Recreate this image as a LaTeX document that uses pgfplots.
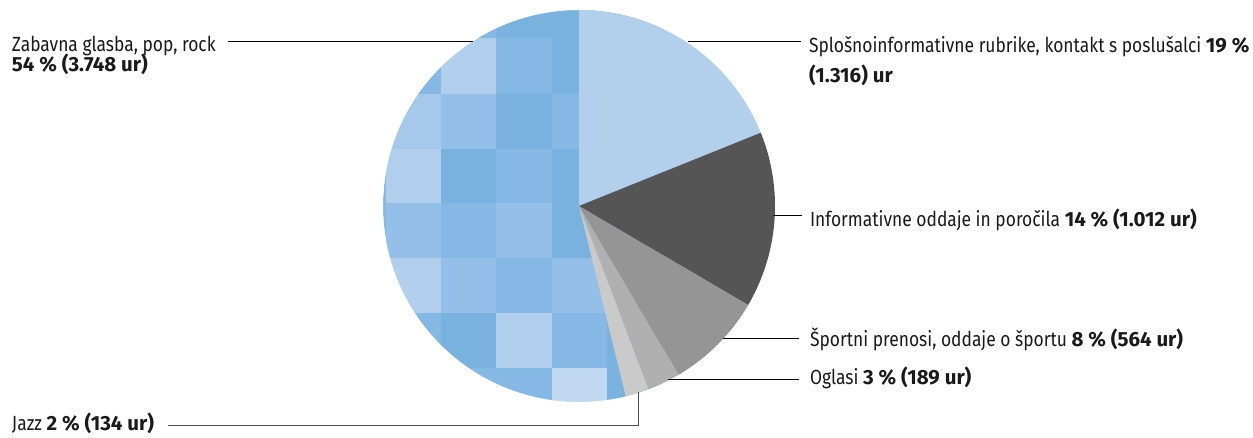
\documentclass[border=0pt]{standalone}
\usepackage{fontspec}
\setmainfont{Fira Sans}[FakeStretch=0.85]
\newfontfamily\bfam{Fira Sans}[FakeStretch=1.0]
\newcommand\B[1]{{\bfam\bfseries #1}}
\usepackage{pgfplots}
\usepackage{pgfplotstable}
\pgfplotsset{compat=1.18}
\definecolor{cSplo}{HTML}{B2CFEC}
\definecolor{cInfo}{HTML}{555555}
\definecolor{cSport}{HTML}{959595}
\definecolor{cOgl}{HTML}{B0B0B0}
\definecolor{cJazz}{HTML}{CACACA}
\definecolor{cZab}{HTML}{86B8E6}
\definecolor{txt}{HTML}{1A1A1A}

% hours per category (clockwise from 12 o'clock)
\pgfplotstableread{
cat h
Splosno 1316
Inform 1012
Sport 564
Oglasi 189
Jazz 134
Zabavna 3748
}\piedata

% mosaic texture of the "Zabavna" slice (cell centres, colour index)
\pgfplotstableread{
x y c
413.5 426.5 1
468.5 426.5 1
524 426.5 0
579.5 426.5 0
634.5 426.5 0
413.5 371 1
468.5 371 4
524 371 1
579.5 371 0
634.5 371 0
413.5 315.5 3
468.5 315.5 2
524 315.5 0
579.5 315.5 1
634.5 315.5 0
413.5 261 4
468.5 261 0
524 261 1
579.5 261 0
634.5 261 0
413.5 206.5 2
468.5 206.5 1
524 206.5 2
579.5 206.5 0
634.5 206.5 0
413.5 151.5 4
468.5 151.5 2
524 151.5 1
579.5 151.5 2
634.5 151.5 3
413.5 96.5 1
468.5 96.5 0
524 96.5 4
579.5 96.5 1
634.5 96.5 0
413.5 41.5 1
468.5 41.5 1
524 41.5 1
579.5 41.5 5
634.5 41.5 0
}\mosaic

\pgfplotstablegetelem{0}{h}\of\piedata\let\hA\pgfplotsretval
\pgfplotstablegetelem{1}{h}\of\piedata\let\hB\pgfplotsretval
\pgfplotstablegetelem{2}{h}\of\piedata\let\hC\pgfplotsretval
\pgfplotstablegetelem{3}{h}\of\piedata\let\hD\pgfplotsretval
\pgfplotstablegetelem{4}{h}\of\piedata\let\hE\pgfplotsretval
\pgfplotstablegetelem{5}{h}\of\piedata\let\hF\pgfplotsretval
\pgfmathsetmacro\tot{\hA+\hB+\hC+\hD+\hE+\hF}
\pgfmathsetmacro\aA{90}
\pgfmathsetmacro\aB{\aA-360*(\hA/\tot)}
\pgfmathsetmacro\aC{\aB-360*(\hB/\tot)}
\pgfmathsetmacro\aD{\aC-360*(\hC/\tot)}
\pgfmathsetmacro\aE{\aD-360*(\hD/\tot)}
\pgfmathsetmacro\aF{\aE-360*(\hE/\tot)}
\pgfmathsetmacro\aG{\aA-360}

\tikzset{lbl/.style={font=\fontsize{20.5}{24}\selectfont, text=txt, inner sep=0pt, outer sep=0pt, anchor=base west}}

\begin{document}%
\begin{tikzpicture}
\useasboundingbox (0,0) rectangle (1253pt,437pt);
\begin{axis}[at={(0,0)}, anchor=south west, scale only axis,
  width=1253pt, height=437pt, xmin=0, xmax=1253, ymin=0, ymax=437,
  hide axis, clip=false,
  colormap={mosaic}{rgb255=(121,177,223) rgb255=(134,184,230) rgb255=(148,191,232) rgb255=(166,201,235) rgb255=(177,207,237) rgb255=(192,216,240)},
  colormap access=direct]
% Zabavna slice base
\addplot[draw=none, fill=cZab, domain=\aG:\aF, samples=90] ({579+196*cos(x)}, {231+196*sin(x)}) -- (axis cs:579,231) -- cycle;
% mosaic texture
\addplot[matrix plot*, shader=flat corner, mesh/cols=5, point meta=explicit] table[x=x, y=y, meta=c] {\mosaic};
% mask outside the circle
\fill[white, even odd rule] (axis cs:370,-40) rectangle (axis cs:690,480) (axis cs:579,231) circle[radius=196pt];
% other slices
\addplot[draw=none, fill=cSplo, domain=\aB:\aA, samples=40] ({579+196*cos(x)}, {231+196*sin(x)}) -- (axis cs:579,231) -- cycle;
\addplot[draw=none, fill=cInfo, domain=\aC:\aB, samples=40] ({579+196*cos(x)}, {231+196*sin(x)}) -- (axis cs:579,231) -- cycle;
\addplot[draw=none, fill=cSport, domain=\aD:\aC, samples=30] ({579+196*cos(x)}, {231+196*sin(x)}) -- (axis cs:579,231) -- cycle;
\addplot[draw=none, fill=cOgl, domain=\aE:\aD, samples=15] ({579+196*cos(x)}, {231+196*sin(x)}) -- (axis cs:579,231) -- cycle;
\addplot[draw=none, fill=cJazz, domain=\aF:\aE, samples=15] ({579+196*cos(x)}, {231+196*sin(x)}) -- (axis cs:579,231) -- cycle;
% leader lines
\draw[black, line width=1pt] (axis cs:228,395) -- (axis cs:473,395);
\draw[black, line width=1pt] (axis cs:688,395) -- (axis cs:801,395);
\draw[black, line width=1pt] (axis cs:773,222) -- (axis cs:802,222);
\draw[black, line width=1pt] (axis cs:723,99) -- (axis cs:799,99);
\draw[black, line width=1pt] (axis cs:668,58) -- (axis cs:799,58);
\draw[black!70, line width=1pt] (axis cs:168,11.5) -- (axis cs:638,11.5) -- (axis cs:638,45);
% labels
\node[lbl] at (axis cs:12,385.5) {Zabavna glasba, pop, rock};
\node[lbl] at (axis cs:12,365.5) {\B{54 \% (3.748 ur)}};
\node[lbl] at (axis cs:809,384.7) {Splošnoinformativne rubrike, kontakt s poslušalci \B{19 \%}};
\node[lbl] at (axis cs:809,354.7) {\B{(1.316) ur}};
\node[lbl] at (axis cs:810,210.3) {Informativne oddaje in poročila \B{14 \% (1.012 ur)}};
\node[lbl] at (axis cs:810,90.3) {Športni prenosi, oddaje o športu \B{8 \% (564 ur)}};
\node[lbl] at (axis cs:810,53) {Oglasi \B{3 \% (189 ur)}};
\node[lbl] at (axis cs:12,6.3) {Jazz \B{2 \% (134 ur)}};
\end{axis}
\end{tikzpicture}%
\end{document}
